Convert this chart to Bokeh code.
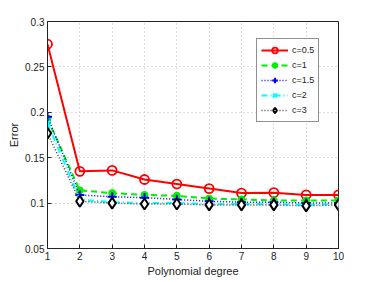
from bokeh.plotting import figure
from bokeh.models import FixedTicker, Legend, LegendItem, Range1d
from bokeh.embed import file_html
from bokeh.resources import INLINE

degree = [1, 2, 3, 4, 5, 6, 7, 8, 9, 10]
err_c05 = [0.275, 0.135, 0.136, 0.126, 0.121, 0.116, 0.111, 0.1115, 0.109, 0.109]
err_c1 = [0.193, 0.114, 0.111, 0.109, 0.108, 0.105, 0.104, 0.103, 0.103, 0.103]
err_c15 = [0.195, 0.109, 0.107, 0.106, 0.104, 0.102, 0.101, 0.101, 0.100, 0.100]
err_c2 = [0.188, 0.104, 0.101, 0.100, 0.100, 0.099, 0.099, 0.099, 0.098, 0.099]
err_c3 = [0.177, 0.102, 0.100, 0.099, 0.099, 0.098, 0.098, 0.098, 0.097, 0.098]
labels = ["c=0.5", "c=1", "c=1.5", "c=2", "c=3"]
x_ticks = [1, 2, 3, 4, 5, 6, 7, 8, 9, 10]
y_ticks = [0.05, 0.1, 0.15, 0.2, 0.25, 0.3]
y_tick_labels = ["0.05", "0.1", "0.15", "0.2", "0.25", "0.3"]

FONT = "Liberation Sans"

p = figure(width=365, height=279, output_backend="svg", toolbar_location=None,
           x_range=Range1d(1, 10), y_range=Range1d(0.05, 0.3),
           min_border_left=47, min_border_right=27, min_border_top=21, min_border_bottom=29)
p.background_fill_color = "white"
p.border_fill_color = "white"
p.outline_line_color = "#222222"
p.outline_line_width = 1

for ax in (p.xaxis[0], p.yaxis[0]):
    ax.major_tick_in = 4
    ax.major_tick_out = 0
    ax.minor_tick_in = 0
    ax.minor_tick_out = 0
    ax.axis_line_color = "#222222"
    ax.major_tick_line_color = "#222222"
    ax.major_label_text_font = FONT
    ax.major_label_text_font_size = "10px"
    ax.major_label_text_color = "#222222"
    ax.axis_label_text_font = FONT
    ax.axis_label_text_font_size = "11px"
    ax.axis_label_text_font_style = "normal"
    ax.axis_label_text_color = "#222222"
    ax.major_label_standoff = 3
    ax.axis_label_standoff = 2

p.xaxis.ticker = FixedTicker(ticks=x_ticks)
p.yaxis.ticker = FixedTicker(ticks=y_ticks)
p.yaxis.major_label_overrides = {t: l for t, l in zip(y_ticks, y_tick_labels)}
p.xaxis.axis_label = "Polynomial degree"
p.yaxis.axis_label = "Error"

for g in (p.xgrid[0], p.ygrid[0]):
    g.grid_line_color = "#bbbbbb"
    g.grid_line_dash = "1 3"
    g.grid_line_width = 1

items = []
r1 = p.line(degree, err_c05, line_color="red", line_width=2)
m1 = p.scatter(degree, err_c05, marker="circle", size=9, fill_color=None,
               line_color="red", line_width=1.8)
r2 = p.line(degree, err_c1, line_color="#00ee00", line_width=2, line_dash="6 4")
m2 = p.scatter(degree, err_c1, marker="circle", size=7, fill_color="#00ee00",
               line_color="#00ee00")
r3 = p.line(degree, err_c15, line_color="blue", line_width=1.5, line_dash="1 2")
m3 = p.scatter(degree, err_c15, marker="cross", size=9, line_color="blue", line_width=2)
r4 = p.line(degree, err_c2, line_color="cyan", line_width=2, line_dash="6 3 1 3")
m4 = p.scatter(degree, err_c2, marker="x", size=7, line_color="cyan", line_width=2)
r5 = p.line(degree, err_c3, line_color="#444444", line_width=1.5, line_dash="1 2")
m5 = p.scatter(degree, err_c3, marker="diamond", size=11, fill_color="white",
               line_color="black", line_width=2)

for lab, rs in zip(labels, [(r1, m1), (r2, m2), (r3, m3), (r4, m4), (r5, m5)]):
    items.append(LegendItem(label=lab, renderers=list(rs)))

legend = Legend(items=items, location=(209, 126), label_text_font=FONT,
                label_text_font_size="9px", label_text_color="#222222",
                glyph_width=27, glyph_height=14, label_height=14, spacing=1,
                padding=4, margin=0, border_line_color="#222222",
                border_line_width=1, background_fill_color="white",
                background_fill_alpha=1, label_standoff=4)
p.add_layout(legend, "center")

open("out.html", "w").write(file_html(p, INLINE))
